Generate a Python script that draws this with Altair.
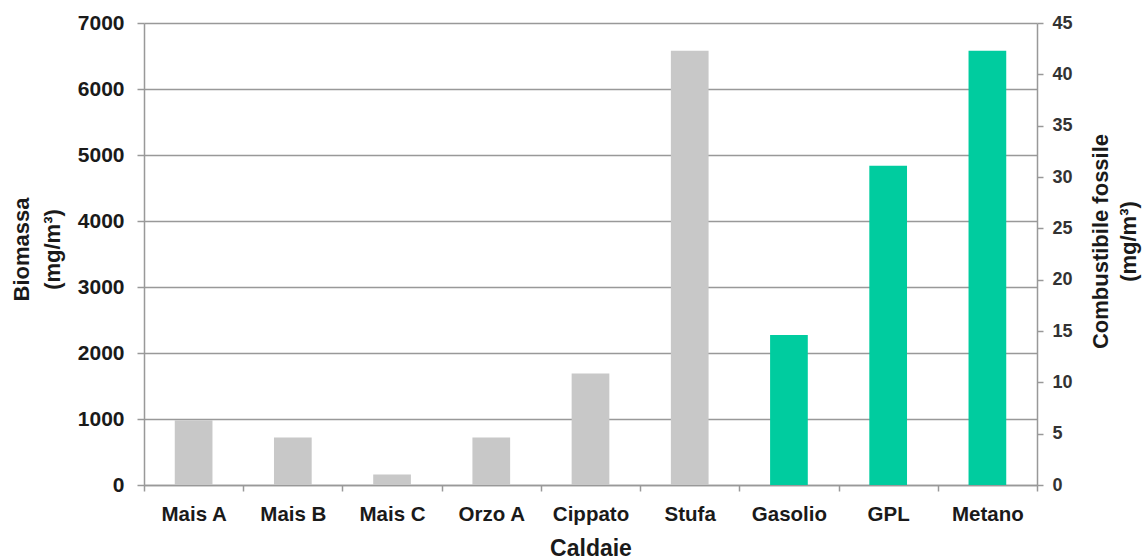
import altair as alt
import pandas as pd

# Boiler types on the x axis
categories = ["Mais A", "Mais B", "Mais C", "Orzo A", "Cippato", "Stufa",
              "Gasolio", "GPL", "Metano"]

# Biomass boilers (left axis, mg/m³)
biomass_names = ["Mais A", "Mais B", "Mais C", "Orzo A", "Cippato", "Stufa"]
biomass_values = [980, 720, 160, 720, 1690, 6580]

# Fossil-fuel boilers (right axis, mg/m³)
fossil_names = ["Gasolio", "GPL", "Metano"]
fossil_values = [14.6, 31.1, 42.3]

left_ticks = [0, 1000, 2000, 3000, 4000, 5000, 6000, 7000]
right_ticks = [0, 5, 10, 15, 20, 25, 30, 35, 40, 45]

biomass_df = pd.DataFrame({"Caldaia": biomass_names, "Biomassa": biomass_values})
fossil_df = pd.DataFrame({"Caldaia": fossil_names, "Fossile": fossil_values})

FONT = "Liberation Sans"
AXIS_GRAY = "#999999"
TEXT = "#1a1a1a"

x_enc = alt.X(
    "Caldaia:N",
    sort=categories,
    scale=alt.Scale(domain=categories, paddingInner=0, paddingOuter=0),
    axis=alt.Axis(
        title="Caldaie",
        titleFontSize=23,
        titleFont=FONT,
        titleFontWeight="bold",
        titleColor=TEXT,
        titlePadding=13,
        labelAngle=0,
        labelFontSize=20.5,
        labelFont=FONT,
        labelFontWeight="bold",
        labelColor=TEXT,
        labelPadding=13,
        tickBand="extent",
        tickSize=6,
        tickColor=AXIS_GRAY,
        tickWidth=1.5,
        domainColor=AXIS_GRAY,
        domainWidth=1.5,
        grid=False,
    ),
)

biomass = alt.Chart(biomass_df).mark_bar(
    color="#c8c8c8", width=alt.RelativeBandSize(0.38)
).encode(
    x=x_enc,
    y=alt.Y(
        "Biomassa:Q",
        scale=alt.Scale(domain=[0, 7000], nice=False),
        axis=alt.Axis(
            orient="left",
            values=left_ticks,
            format="d",
            title=["Biomassa", "(mg/m³)"],
            titleFontSize=22,
            titleFont=FONT,
            titleFontWeight="bold",
            titleColor=TEXT,
            titleAngle=270,
            titleAlign="center",
            titleBaseline="middle",
            titleLineHeight=31,
            titleX=-123,
            titleY=226,
            labelFontSize=21,
            labelFont=FONT,
            labelFontWeight="bold",
            labelColor=TEXT,
            labelPadding=13,
            tickSize=7,
            tickColor=AXIS_GRAY,
            tickWidth=1.5,
            domainColor=AXIS_GRAY,
            domainWidth=1.5,
            grid=True,
            gridColor=AXIS_GRAY,
            gridWidth=1.5,
        ),
    ),
)

fossil = alt.Chart(fossil_df).mark_bar(
    color="#00cc9f", width=alt.RelativeBandSize(0.38)
).encode(
    x=x_enc,
    y=alt.Y(
        "Fossile:Q",
        scale=alt.Scale(domain=[0, 45], nice=False),
        axis=alt.Axis(
            orient="right",
            values=right_ticks,
            format="d",
            title=["Combustibile fossile", "(mg/m³)"],
            titleFontSize=22,
            titleFont=FONT,
            titleFontWeight="bold",
            titleColor=TEXT,
            titleAngle=270,
            titleAlign="center",
            titleBaseline="middle",
            titleLineHeight=28,
            titleX=63,
            titleY=218,
            labelFontSize=18,
            labelFont=FONT,
            labelFontWeight="bold",
            labelColor="#333333",
            labelPadding=9,
            tickSize=6,
            tickColor=AXIS_GRAY,
            tickWidth=1.5,
            domainColor=AXIS_GRAY,
            domainWidth=1.5,
            grid=False,
        ),
    ),
)

chart = (
    alt.layer(biomass, fossil)
    .resolve_scale(y="independent")
    .properties(
        width=893,
        height=462,
        autosize=alt.AutoSizeParams(type="none"),
        padding={"left": 144, "top": 23, "right": 105, "bottom": 75},
        background="white",
    )
    .configure_view(stroke=None)
)

chart.save("out.html", embed_options={"renderer": "svg", "actions": False})
